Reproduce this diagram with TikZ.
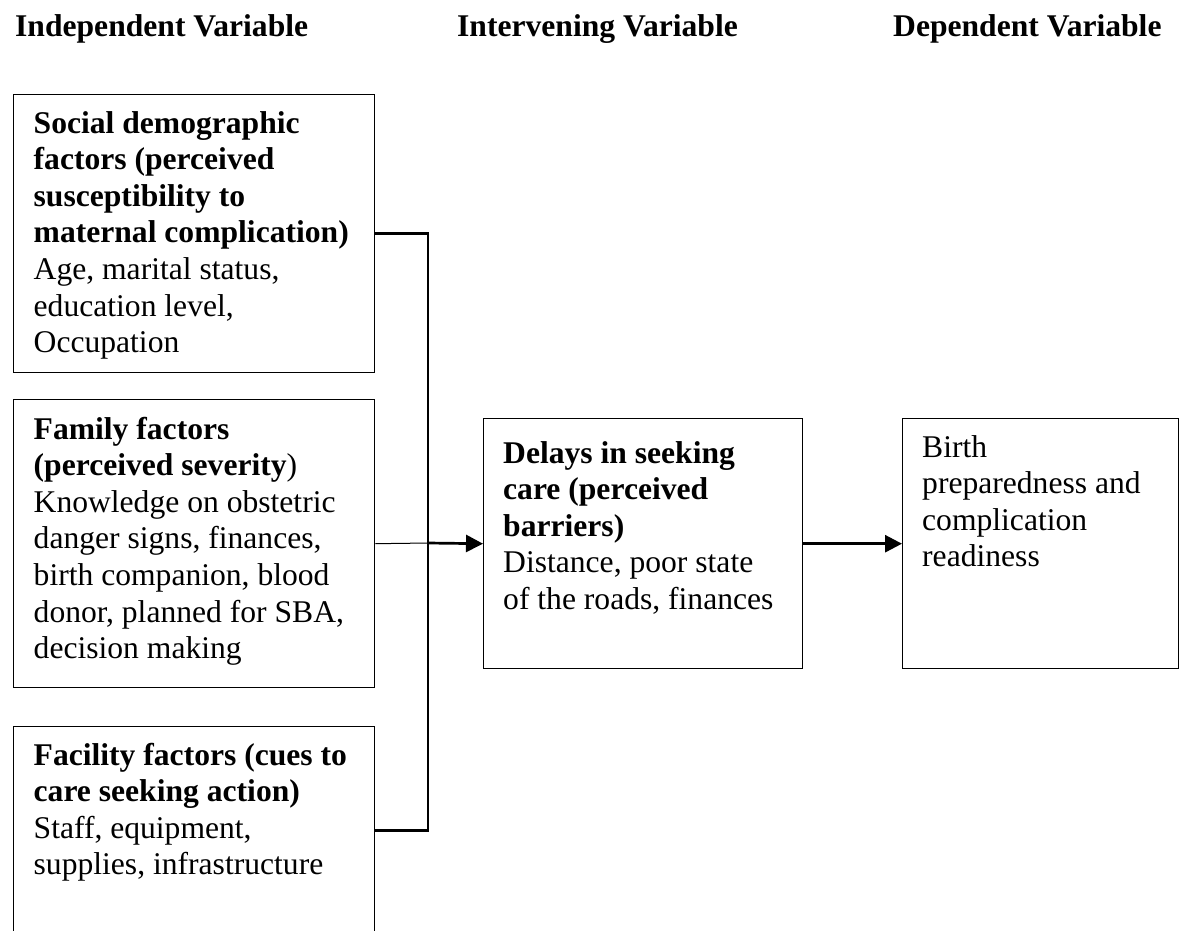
\documentclass[tikz,border=0pt]{standalone}
\usepackage{fontspec}
\setmainfont{Liberation Serif}
\usetikzlibrary{arrows.meta}
\begin{document}
\begin{tikzpicture}[x=1pt,y=-1pt,
  box/.style={draw, line width=1.4pt, inner sep=0pt, anchor=north west},
  txt/.style={inner sep=0pt, anchor=base west, font=\fontsize{31.6pt}{36.6pt}\selectfont},
  conn/.style={line width=2.8pt},
  thinconn/.style={line width=1pt},
  arr/.style={line width=2.7pt, -{Triangle[length=17pt,width=17pt]}}]
\useasboundingbox (0,0) rectangle (1186,930);
\clip (0,0) rectangle (1186,930);
\fill[white] (0,0) rectangle (1186,930);

% headers
\node[txt] (h1) at (15,36) {\textbf{Independent Variable}};
\node[txt] (h2) at (457,36) {\textbf{Intervening Variable}};
\node[txt] (h3) at (893,36) {\textbf{Dependent Variable}};

% boxes
\node[box, minimum width=361pt, minimum height=278pt] (b1) at (13,94) {};
\node[box, minimum width=361pt, minimum height=288pt] (b2) at (13,399) {};
\node[box, minimum width=361pt, minimum height=208pt] (b3) at (13,726) {};
\node[box, minimum width=319pt, minimum height=250pt] (b4) at (483,418) {};
\node[box, minimum width=276pt, minimum height=250pt] (b5) at (902,418) {};

% texts
\node[txt] (t1) at (33.5,133) {\parbox[t]{400pt}{\raggedright
  \textbf{Social demographic}\\
  \textbf{factors (perceived}\\
  \textbf{susceptibility to}\\
  \textbf{maternal complication)}\\
  Age, marital status,\\
  education level,\\
  Occupation}};
\node[txt] (t2) at (33.5,439) {\parbox[t]{400pt}{\raggedright
  \textbf{Family factors}\\
  \textbf{(perceived severity})\\
  Knowledge on obstetric\\
  danger signs, finances,\\
  birth companion, blood\\
  donor, planned for SBA,\\
  decision making}};
\node[txt] (t3) at (33.5,765) {\parbox[t]{400pt}{\raggedright
  \textbf{Facility factors (cues to}\\
  \textbf{care seeking action)}\\
  Staff, equipment,\\
  supplies, infrastructure}};
\node[txt] (t4) at (503,463) {\parbox[t]{400pt}{\raggedright
  \textbf{Delays in seeking}\\
  \textbf{care (perceived}\\
  \textbf{barriers)}\\
  Distance, poor state\\
  of the roads, finances}};
\node[txt] (t5) at (922,457) {\parbox[t]{300pt}{\raggedright
  Birth\\
  preparedness and\\
  complication\\
  readiness}};

% connectors
\coordinate (jm) at (428,543);
\draw[conn] (b1.east) -- (b1.east -| jm) -- (b3.east -| jm) -- (b3.east);
\draw[thinconn] (b2.east) -- (jm);
\draw[arr] (jm) -- (b4.west);
\draw[arr] (b4.east) -- (b5.west);
\end{tikzpicture}
\end{document}
